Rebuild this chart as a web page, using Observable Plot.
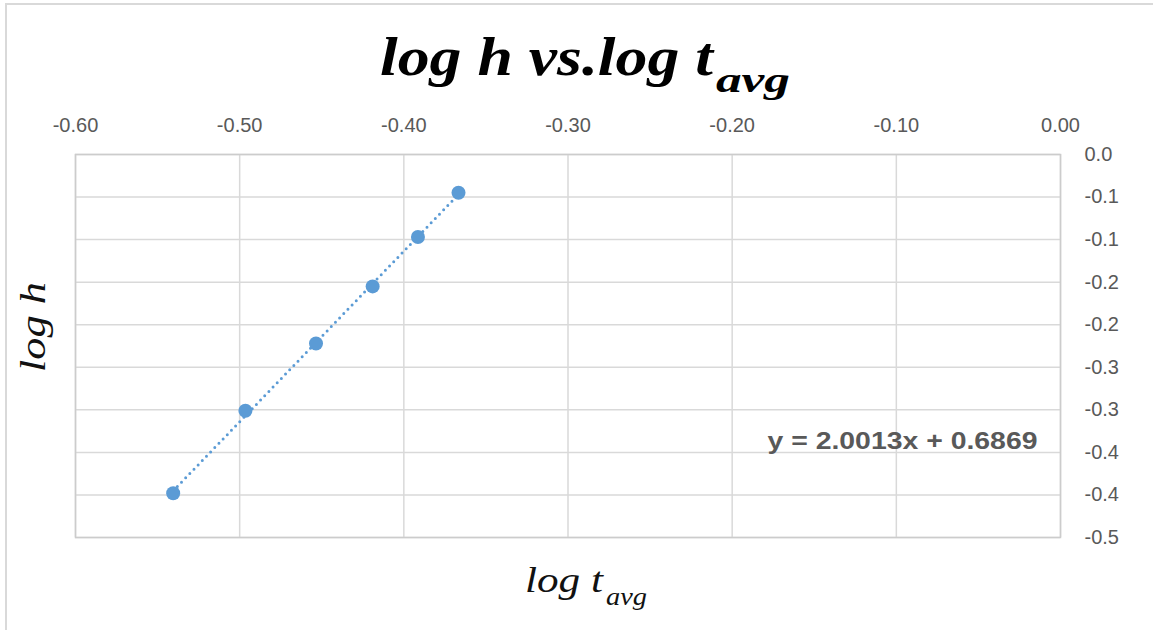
<!DOCTYPE html>
<html><head><meta charset="utf-8">
<script src="https://cdn.jsdelivr.net/npm/d3@7"></script>
<script src="https://cdn.jsdelivr.net/npm/@observablehq/plot@0.6"></script>
<style>
body{margin:0;background:#fff;}
#wrap{position:relative;width:1153px;height:630px;overflow:hidden;}
#border{position:absolute;left:5px;top:3px;width:1170px;height:650px;border:2px solid #d9d9d9;box-sizing:border-box;}
#wrap svg{position:absolute;left:0;top:0;}
</style></head><body><div id="wrap"><div id="border"></div></div>
<script>
const logT = [-0.5405, -0.4965, -0.4535, -0.4190, -0.3914, -0.3667];
const logH = [-0.398, -0.301, -0.222, -0.155, -0.097, -0.045];
const xTicks = [-0.6, -0.5, -0.4, -0.3, -0.2, -0.1, 0];
const xTickLabels = ["-0.60", "-0.50", "-0.40", "-0.30", "-0.20", "-0.10", "0.00"];
const yTicks = [0, -0.05, -0.1, -0.15, -0.2, -0.25, -0.3, -0.35, -0.4, -0.45];
const yTickLabels = ["0.0", "-0.1", "-0.1", "-0.2", "-0.2", "-0.3", "-0.3", "-0.4", "-0.4", "-0.5"];
const equation = "y = 2.0013x + 0.6869";
const titleMain = "log h vs.log t";
const titleSub = "avg";
const xLabelMain = "log t";
const xLabelSub = "avg";
const yLabel = "log h";

const data = logT.map((x, i) => ({x, y: logH[i]}));
const blue = "#5b9bd5";

const chart = Plot.plot({
  width: 1153, height: 630,
  marginTop: 154, marginBottom: 93, marginLeft: 75, marginRight: 93,
  style: {fontFamily: "'Liberation Sans', Arial, sans-serif", fontSize: "20px", color: "#595959", background: "transparent"},
  x: {domain: [-0.6, 0]},
  y: {domain: [-0.45, 0]},
  marks: [
    Plot.gridX(xTicks, {stroke: "#d9d9d9", strokeOpacity: 1, strokeWidth: 1.5}),
    Plot.gridY(yTicks, {stroke: "#d9d9d9", strokeOpacity: 1, strokeWidth: 1.5}),
    Plot.frame({stroke: "#cccccc", strokeWidth: 1.5}),
    Plot.axisX(xTicks, {anchor: "top", tickSize: 0, tickPadding: 23, label: null,
      tickFormat: d => xTickLabels[xTicks.indexOf(d)], fill: "#595959"}),
    Plot.axisY(yTicks, {anchor: "right", tickSize: 0, tickPadding: 24, label: null,
      tickFormat: d => yTickLabels[yTicks.indexOf(d)], fill: "#595959"}),
    Plot.linearRegressionY(data, {x: "x", y: "y", ci: 0, stroke: blue, strokeWidth: 3,
      strokeDasharray: "0,6", strokeLinecap: "round"}),
    Plot.dot(data, {x: "x", y: "y", r: 7, fill: blue}),
    Plot.text([equation], {frameAnchor: "right", dx: -23, dy: 95, textAnchor: "end",
      fontSize: 24, fontWeight: "bold", fill: "#595959"})
  ]
});
document.getElementById("wrap").appendChild(chart);

const svg = d3.select(chart);
svg.selectAll('g[aria-label="text"] text').attr("textLength", 270).attr("lengthAdjust", "spacingAndGlyphs");

const serif = "'Liberation Serif', 'DejaVu Serif', serif";
function addText(x, y, str, size, len, weight, color, transform) {
  const el = svg.append("text")
    .attr("font-family", serif).attr("font-style", "italic")
    .attr("font-weight", weight).attr("font-size", size)
    .attr("fill", color).attr("text-anchor", "start")
    .attr("textLength", len).attr("lengthAdjust", "spacingAndGlyphs")
    .text(str);
  if (transform) el.attr("transform", transform);
  else el.attr("x", x).attr("y", y);
  return el;
}
// Title
addText(380, 75, titleMain, 54, 333, "bold", "#000");
addText(716, 92, titleSub, 36, 74, "bold", "#000");
// X label
addText(525, 592, xLabelMain, 36, 78, "normal", "#111");
addText(606, 605, xLabelSub, 26, 41, "normal", "#111");
// Y label
addText(0, 0, yLabel, 36, 90, "normal", "#111", "translate(45,372) rotate(-90)");
</script></body></html>
